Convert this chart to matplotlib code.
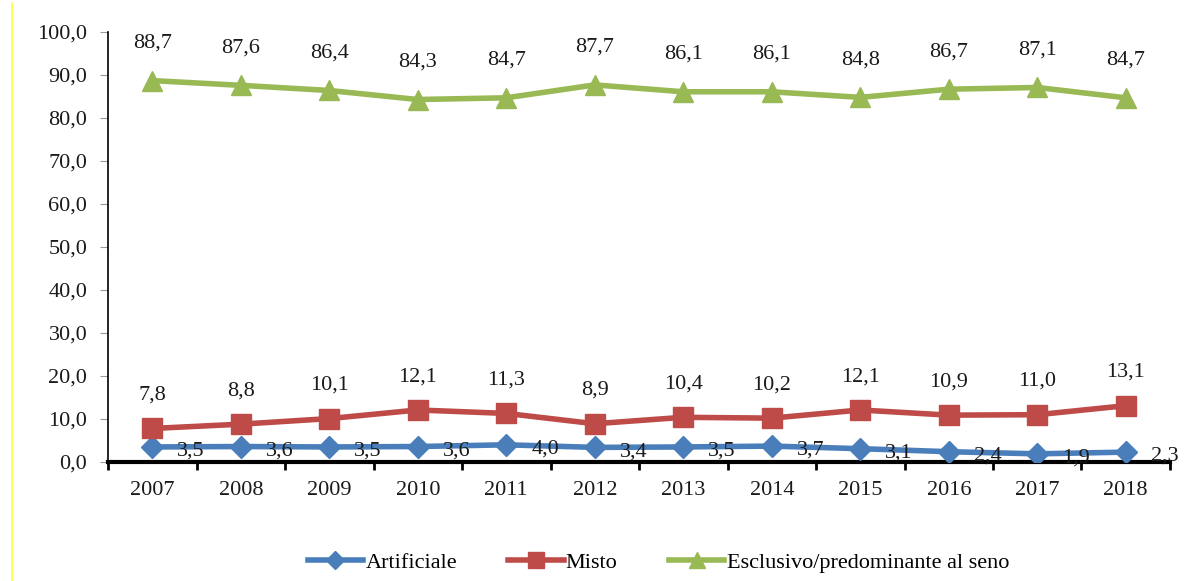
import numpy as np
import matplotlib
matplotlib.use("Agg")
import matplotlib.pyplot as plt
from matplotlib.lines import Line2D

plt.rcParams['font.family'] = ['Liberation Serif', 'DejaVu Serif']

years = ['2007', '2008', '2009', '2010', '2011', '2012',
         '2013', '2014', '2015', '2016', '2017', '2018']
artificiale = [3.5, 3.6, 3.5, 3.6, 4.0, 3.4, 3.5, 3.7, 3.1, 2.4, 1.9, 2.3]
misto = [7.8, 8.8, 10.1, 12.1, 11.3, 8.9, 10.4, 10.2, 12.1, 10.9, 11.0, 13.1]
esclusivo = [88.7, 87.6, 86.4, 84.3, 84.7, 87.7, 86.1, 86.1, 84.8, 86.7, 87.1, 84.7]
y_ticks = [0, 10, 20, 30, 40, 50, 60, 70, 80, 90, 100]

c_blue = '#4A7EBB'
c_red = '#BE4B48'
c_green = '#98B954'

def fmt(v):
    return f"{v:.1f}".replace('.', ',')

fig = plt.figure(figsize=(11.86, 5.81), dpi=100)
ax = fig.add_axes([0.0911, 0.2048, 0.8954, 0.7401])

x = np.arange(len(years))
ax.plot(x, artificiale, color=c_blue, lw=4, marker='D', ms=11, label='Artificiale', zorder=3)
ax.plot(x, misto, color=c_red, lw=4, marker='s', ms=14, label='Misto', zorder=3)
ax.plot(x, esclusivo, color=c_green, lw=4, marker='^', ms=15, label='Esclusivo/predominante al seno', zorder=3)

fs = 16
tc = '#1a1a1a'
for i in x:
    ax.annotate(fmt(esclusivo[i]), (i, esclusivo[i]), xytext=(0, 27), textcoords='offset points',
                ha='center', va='center', fontsize=fs, color=tc)
    ax.annotate(fmt(misto[i]), (i, misto[i]), xytext=(0, 24), textcoords='offset points',
                ha='center', va='center', fontsize=fs, color=tc)
    ax.annotate(fmt(artificiale[i]), (i, artificiale[i]), xytext=(18, -3), textcoords='offset points',
                ha='left', va='center', fontsize=fs, color=tc)

ax.set_xlim(-0.5, len(years) - 0.5)
ax.set_ylim(0, 100)
ax.set_yticks(y_ticks)
ax.set_yticklabels([fmt(v) for v in y_ticks], fontsize=fs, color=tc)
ax.set_xticks(x)
ax.set_xticklabels(years, fontsize=fs, color=tc)
ax.tick_params(axis='x', length=0, pad=14)
ax.set_xticks(np.arange(-0.5, len(years)), minor=True)
ax.tick_params(axis='x', which='minor', length=6, width=2, color='black')
ax.tick_params(axis='y', length=6, color='#999999', pad=9)

for s in ['top', 'right']:
    ax.spines[s].set_visible(False)
ax.spines['bottom'].set_linewidth(3)
ax.spines['left'].set_linewidth(1.2)

handles = [
    Line2D([0], [0], color=c_blue, lw=4, marker='D', ms=9),
    Line2D([0], [0], color=c_red, lw=4, marker='s', ms=11),
    Line2D([0], [0], color=c_green, lw=4, marker='^', ms=12),
]
fig.legend(handles, ['Artificiale', 'Misto', 'Esclusivo/predominante al seno'],
           loc='center', bbox_to_anchor=(0.555, 0.031), ncol=3, frameon=False,
           fontsize=fs, handlelength=2.5, handletextpad=0.1, columnspacing=2.3)

fig.add_artist(Line2D([12 / 1186, 12 / 1186], [0.0, 0.995], color='#FFFF33', lw=1.2))

fig.savefig('out.png', dpi=100)
